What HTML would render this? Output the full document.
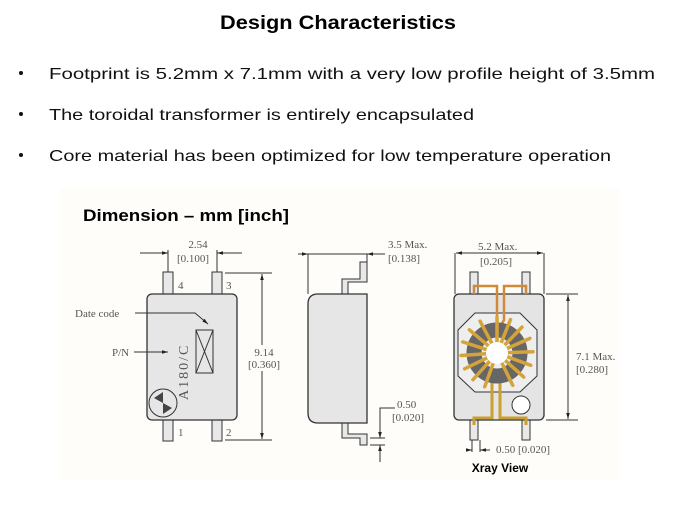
<!DOCTYPE html>
<html><head><meta charset="utf-8"><style>html,body{margin:0;padding:0;background:#fff}svg{display:block}</style></head><body>
<svg width="675" height="506" viewBox="0 0 675 506" xmlns="http://www.w3.org/2000/svg">
<rect width="675" height="506" fill="#fff"/>
<rect x="60" y="188" width="560" height="292" fill="#fefdf9"/>
<text x="338" y="29" text-anchor="middle" font-family="Liberation Sans, sans-serif" font-weight="bold" font-size="19" textLength="236" lengthAdjust="spacingAndGlyphs">Design Characteristics</text>
<g font-family="Liberation Sans, sans-serif" font-size="16" fill="#111">
<circle cx="21" cy="73" r="2"/><circle cx="21" cy="114" r="2"/><circle cx="21" cy="155" r="2"/>
<text x="49" y="79" textLength="606" lengthAdjust="spacingAndGlyphs">Footprint is 5.2mm x 7.1mm with a very low profile height of 3.5mm</text>
<text x="49" y="120" textLength="425" lengthAdjust="spacingAndGlyphs">The toroidal transformer is entirely encapsulated</text>
<text x="49" y="161" textLength="562" lengthAdjust="spacingAndGlyphs">Core material has been optimized for low temperature operation</text>
</g>
<text x="83" y="221" font-family="Liberation Sans, sans-serif" font-weight="bold" font-size="17" textLength="206" lengthAdjust="spacingAndGlyphs">Dimension – mm [inch]</text>
<defs><marker id="a" viewBox="0 0 10 10" refX="10" refY="5" markerWidth="6" markerHeight="6" orient="auto-start-reverse"><path d="M0,2 L10,5 L0,8z" fill="#222"/></marker></defs>
<g stroke="#333" stroke-width="1" fill="none">
<rect x="163" y="272" width="10" height="22" fill="#e8e8e8"/><rect x="212" y="272" width="10" height="22" fill="#e8e8e8"/>
<rect x="163" y="420" width="10" height="21" fill="#e8e8e8"/><rect x="212" y="420" width="10" height="21" fill="#e8e8e8"/>
<rect x="147" y="294" width="90" height="126" rx="5" fill="#e6e6e6" stroke-width="1.3"/>
<line x1="168" y1="250" x2="168" y2="272"/><line x1="217" y1="250" x2="217" y2="272"/>
<line x1="140" y1="253" x2="168" y2="253" marker-end="url(#a)"/><line x1="242" y1="253" x2="217" y2="253" marker-end="url(#a)"/>
<line x1="225" y1="273" x2="272" y2="273"/><line x1="225" y1="440" x2="272" y2="440"/>
<line x1="262" y1="274" x2="262" y2="439" marker-start="url(#a)" marker-end="url(#a)"/>
<polyline points="135,313 195,313 208,324" marker-end="url(#a)"/>
<line x1="134" y1="352" x2="168" y2="352" marker-end="url(#a)"/>
<rect x="196" y="330" width="17" height="43"/><line x1="196" y1="330" x2="213" y2="373"/><line x1="213" y1="330" x2="196" y2="373"/>
<circle cx="163" cy="403" r="14"/>
<polyline points="342,294 342,279 360,279 360,262 367,262 367,282 348,282 348,294" fill="#e8e8e8"/>
<polyline points="342,423 342,438 360,438 360,445 367,445 367,434 348,434 348,423" fill="#e8e8e8"/>
<path d="M318,294 H367 V423 H318 Q308,423 308,413 V304 Q308,294 318,294z" fill="#e6e6e6" stroke-width="1.3"/>
<line x1="308" y1="254" x2="308" y2="294"/><line x1="367" y1="254" x2="367" y2="262"/>
<line x1="298" y1="254" x2="308" y2="254" marker-end="url(#a)"/><line x1="385" y1="254" x2="367" y2="254" marker-end="url(#a)"/>
<line x1="308" y1="254" x2="367" y2="254"/>
<line x1="370" y1="438" x2="385" y2="438"/><line x1="370" y1="445" x2="385" y2="445"/>
<line x1="380" y1="420" x2="380" y2="438" marker-end="url(#a)"/><line x1="380" y1="462" x2="380" y2="445" marker-end="url(#a)"/>
<polyline points="380,420 380,408 395,408"/>
<rect x="470" y="272" width="8" height="22" fill="#e8e8e8"/><rect x="522" y="272" width="8" height="22" fill="#e8e8e8"/>
<rect x="470" y="420" width="8" height="20" fill="#e8e8e8"/><rect x="522" y="420" width="8" height="20" fill="#e8e8e8"/>
<rect x="454" y="294" width="90" height="126" rx="5" fill="#e4e4e4" stroke-width="1.3"/>
<polygon points="475,313 520,313 537,330 537,376 520,392 475,392 458,376 458,330" fill="#eeeeee"/>
<line x1="455" y1="253" x2="455" y2="294"/><line x1="544" y1="253" x2="544" y2="294"/>
<line x1="456" y1="253" x2="543" y2="253" marker-start="url(#a)" marker-end="url(#a)"/>
<line x1="546" y1="294" x2="578" y2="294"/><line x1="546" y1="420" x2="578" y2="420"/>
<line x1="568" y1="295" x2="568" y2="419" marker-start="url(#a)" marker-end="url(#a)"/>
<line x1="466" y1="450" x2="472" y2="450" marker-end="url(#a)"/><line x1="490" y1="450" x2="480" y2="450" marker-end="url(#a)"/>
<line x1="472" y1="440" x2="472" y2="452"/><line x1="480" y1="440" x2="480" y2="452"/>
<circle cx="521" cy="405" r="9" fill="#fff"/>
</g>
<g>
<path d="M474,294 V286 H497 V330" stroke="#d08a3a" stroke-width="2.5" fill="none"/>
<path d="M526,294 V286 H504 V320 L495,335" stroke="#d08a3a" stroke-width="2.5" fill="none"/>
<path d="M492,372 V418 H474 V425 M500,372 V418 H526 V425" stroke="#c9a030" stroke-width="3" fill="none"/>
<circle cx="497" cy="353" r="23" fill="none" stroke="#666" stroke-width="15"/>
<g transform="translate(497,353)" stroke="#d4a43a" stroke-width="3.5" stroke-linecap="round">
<line x1="0" y1="-11" x2="0" y2="-36"/><line x1="0" y1="-11" x2="0" y2="-36" transform="rotate(22)"/><line x1="0" y1="-11" x2="0" y2="-36" transform="rotate(44)"/><line x1="0" y1="-11" x2="0" y2="-36" transform="rotate(66)"/><line x1="0" y1="-11" x2="0" y2="-36" transform="rotate(88)"/><line x1="0" y1="-11" x2="0" y2="-36" transform="rotate(110)"/><line x1="0" y1="-11" x2="0" y2="-36" transform="rotate(132)"/><line x1="0" y1="-11" x2="0" y2="-36" transform="rotate(154)"/><line x1="0" y1="-11" x2="0" y2="-36" transform="rotate(200)"/><line x1="0" y1="-11" x2="0" y2="-36" transform="rotate(222)"/><line x1="0" y1="-11" x2="0" y2="-36" transform="rotate(244)"/><line x1="0" y1="-11" x2="0" y2="-36" transform="rotate(266)"/><line x1="0" y1="-11" x2="0" y2="-36" transform="rotate(288)"/><line x1="0" y1="-11" x2="0" y2="-36" transform="rotate(310)"/><line x1="0" y1="-11" x2="0" y2="-36" transform="rotate(332)"/>
</g>
<circle cx="497" cy="353" r="11" fill="#fff"/>
</g>
<path d="M154,398 L163,392 L163,414 L172,408 Z" fill="#444"/>
<rect x="248" y="345" width="30" height="26" fill="#fefdf9"/>
<g font-family="Liberation Serif, serif" font-size="11" fill="#555">
<text x="198" y="248" text-anchor="middle">2.54</text><text x="193" y="262" text-anchor="middle">[0.100]</text>
<text x="178" y="289">4</text><text x="226" y="289">3</text><text x="178" y="436">1</text><text x="226" y="436">2</text>
<text x="75" y="317">Date code</text><text x="112" y="356">P/N</text>
<text x="264" y="356" text-anchor="middle">9.14</text><text x="264" y="368" text-anchor="middle">[0.360]</text>
<text transform="translate(188,400) rotate(-90)" font-size="14" letter-spacing="2">A180/C</text>
<text x="388" y="248">3.5 Max.</text><text x="388" y="262">[0.138]</text>
<text x="397" y="408">0.50</text><text x="392" y="421">[0.020]</text>
<text x="478" y="250">5.2 Max.</text><text x="480" y="265">[0.205]</text>
<text x="576" y="360">7.1 Max.</text><text x="576" y="373">[0.280]</text>
<text x="496" y="453">0.50 [0.020]</text>
</g>
<text x="500" y="472" text-anchor="middle" font-family="Liberation Sans, sans-serif" font-weight="bold" font-size="12">Xray View</text>
</svg>
</body></html>
